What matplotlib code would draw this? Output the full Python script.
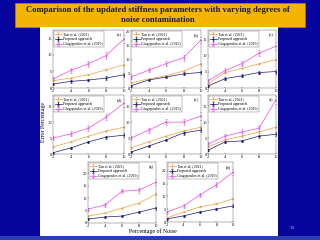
import matplotlib
matplotlib.use("Agg")
import matplotlib.pyplot as plt
from matplotlib.patches import Rectangle

W, H = 320, 240  # pixels
SERIF = "Liberation Serif"

TITLE = "Comparison of the updated stiffness parameters with varying degrees of\nnoise contamination"
LABELS = ["Tan et al. (2021)", "Proposed approach", "Giagopoulos et al. (2019)"]
PANELS = ["(a)", "(b)", "(c)", "(d)", "(e)", "(f)", "(g)", "(h)"]

noise = [2, 4, 6, 8, 10]

# error percentage per panel (a..h)
tan = [
    [2.2, 3.0, 4.0, 5.5, 7.0],
    [1.8, 3.2, 4.3, 6.0, 8.5],
    [1.3, 4.8, 6.1, 7.5, 8.8],
    [2.2, 3.8, 5.6, 7.2, 8.4],
    [1.9, 3.8, 5.6, 7.2, 8.4],
    [2.2, 4.4, 5.6, 6.9, 8.4],
    [2.8, 4.0, 6.0, 8.0, 11.6],
    [1.6, 3.9, 5.9, 7.1, 9.1],
]
proposed = [
    [1.2, 2.0, 2.4, 3.0, 4.0],
    [0.8, 2.8, 3.9, 5.0, 5.5],
    [0.6, 2.9, 3.8, 4.8, 5.1],
    [0.4, 1.9, 3.8, 5.3, 5.9],
    [0.6, 2.5, 4.4, 6.6, 7.5],
    [1.2, 3.8, 4.1, 5.6, 6.2],
    [1.6, 2.4, 2.8, 4.4, 6.0],
    [1.2, 2.4, 3.9, 5.1, 6.3],
]
giag = [
    [2.7, 5.3, 7.3, 9.8, 14.8],
    [3.9, 6.3, 8.6, 10.7, 17.0],
    [2.2, 5.4, 7.6, 10.8, 13.0],
    [5.0, 6.3, 8.1, 11.6, 16.0],
    [5.0, 7.5, 10.0, 10.0, 11.9],
    [3.1, 5.6, 6.9, 8.1, 17.0],
    [5.6, 7.2, 12.8, 13.2, 16.4],
    [3.9, 6.3, 10.6, 14.6, 19.5],
]
tan_err = [0.15, 0.15, 0.2, 0.2, 0.25]
prop_err = [0.3, 0.4, 0.4, 0.5, 0.6]
giag_err = [0.6, 0.8, 0.9, 1.0, 1.2]

# axes boxes in pixels (left, top, right, bottom) and y ranges
boxes = [
    (53, 30, 124, 88), (131, 30, 201, 88), (208, 30, 276, 88),
    (53, 95, 124, 154), (131, 95, 201, 154), (208, 95, 276, 154),
    (88, 162, 156, 223), (167, 162, 233, 222),
]
ylims = [17.5, 20.5, 18, 18.5, 18.5, 18.5, 24.5, 23.5]
yticks = [[0, 5, 10, 15], [0, 5, 10, 15, 20], [0, 5, 10, 15],
          [0, 5, 10, 15], [0, 5, 10, 15], [0, 5, 10, 15],
          [0, 5, 10, 15, 20], [0, 5, 10, 15, 20]]

C_TAN = "#f0a040"
C_PROP = "#1a1a70"
C_GIAG = "#e64ee6"
BG = "#06069e"


def px_axes(fig, box):
    x0, y0, x1, y1 = box
    return fig.add_axes([x0 / W, 1 - y1 / H, (x1 - x0) / W, (y1 - y0) / H])


fig = plt.figure(figsize=(W / 100, H / 100), dpi=100)
fig.patch.set_facecolor(BG)

bg = fig.add_axes([0, 0, 1, 1])
bg.set_xlim(0, W)
bg.set_ylim(H, 0)
bg.axis("off")
bg.add_patch(Rectangle((0, 236), W, 4, facecolor="#2b3fb5", edgecolor="none"))
bg.add_patch(Rectangle((15, 3), 290, 24, facecolor="#f5b400", edgecolor="#c08a00", linewidth=0.4))
bg.text(158, 15, TITLE, ha="center", va="center", fontsize=6.2, fontweight="bold",
        color="#1a1a55", family=SERIF, linespacing=1.2)
bg.add_patch(Rectangle((40, 27), 238, 209, facecolor="white", edgecolor="none"))
bg.text(44, 122, "Error Percentage", rotation=90, ha="center", va="center",
        fontsize=4.2, family=SERIF, color="black")
bg.text(153, 231, "Percentage of Noise", ha="center", va="center",
        fontsize=4.2, family=SERIF, color="black")
bg.text(292, 228, "74", ha="center", va="center", fontsize=3, color="#9aa8dd")

for i, box in enumerate(boxes):
    ax = px_axes(fig, box)
    ax.errorbar(noise, tan[i], yerr=tan_err, color=C_TAN, lw=0.5, marker="+",
                ms=1.5, mew=0.4, elinewidth=0.4, capsize=0.8, label=LABELS[0])
    ax.errorbar(noise, proposed[i], yerr=prop_err, color=C_PROP, lw=0.5, marker="*",
                ms=1.5, mew=0.4, elinewidth=0.4, capsize=0.8, label=LABELS[1])
    ax.errorbar(noise, giag[i], yerr=giag_err, color=C_GIAG, lw=0.5, marker="x",
                ms=1.5, mew=0.4, elinewidth=0.4, capsize=0.8, label=LABELS[2])
    ax.set_xlim(2, 10)
    ax.set_ylim(0, ylims[i])
    ax.set_xticks(noise)
    ax.set_yticks(yticks[i])
    ax.tick_params(labelsize=3.2, length=1, width=0.3, pad=0.8, direction="in")
    for lab in ax.get_xticklabels() + ax.get_yticklabels():
        lab.set_family(SERIF)
    for s in ax.spines.values():
        s.set_linewidth(0.3)
        s.set_color("#555555")
    leg = ax.legend(loc="upper left", frameon=True, borderpad=0.3,
                    handlelength=1.6, handletextpad=0.4, labelspacing=0.25,
                    borderaxespad=0.3, fancybox=False, prop={"family": SERIF, "size": 2.8})
    leg.get_frame().set_linewidth(0.3)
    leg.get_frame().set_edgecolor("#444444")
    ax.text(0.93, 0.95, PANELS[i], transform=ax.transAxes, ha="center", va="top",
            fontsize=3.2, family=SERIF)

fig.savefig("out.png", dpi=100, facecolor=fig.get_facecolor())
